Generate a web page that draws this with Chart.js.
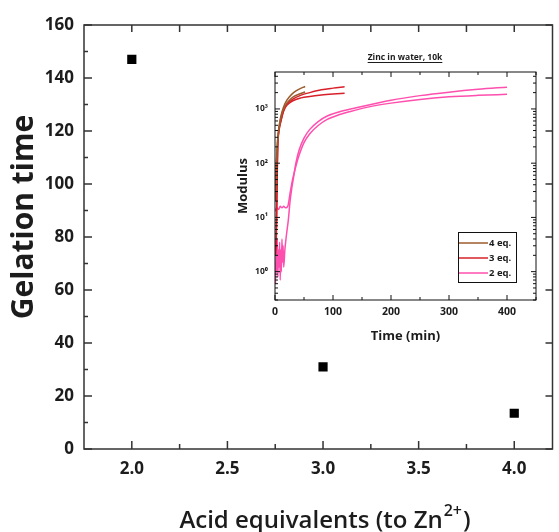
<!DOCTYPE html>
<html>
<head>
<meta charset="utf-8">
<script src="https://cdn.jsdelivr.net/npm/chart.js@4/dist/chart.umd.min.js"></script>
<style>
  html, body { margin: 0; padding: 0; background: #fff; }
  #wrap { position: relative; width: 559px; height: 532px; }
  #main { position: absolute; left: 0; top: 0; }
  #inset { position: absolute; left: 230px; top: 40px; }
</style>
</head>
<body>
<div id="wrap">
  <canvas id="main" width="559" height="532"></canvas>
  <canvas id="inset" width="320" height="310"></canvas>
</div>
<script>
// main plot data
const acidEq = [2.0, 3.0, 4.0];
const gelTime = [147, 31, 13.5];
const acidTicks = [2.0, 2.5, 3.0, 3.5, 4.0];
const acidMinor = [2.25, 2.75, 3.25, 3.75];
const gelTicks = [0, 20, 40, 60, 80, 100, 120, 140, 160];
const gelMinor = [10, 30, 50, 70, 90, 110, 130, 150];

// inset data: [time (min), modulus]
const eq4Upper = [[0.5, 25], [2, 80], [4, 230], [6, 400], [9, 640], [12, 880], [17, 1250], [25, 1680], [32, 2000], [40, 2280], [52, 2600]];
const eq4Lower = [[0.5, 20], [2, 70], [4, 210], [6, 370], [9, 600], [12, 820], [17, 1120], [25, 1450], [32, 1680], [40, 1850], [52, 2050]];
const eq3Upper = [[0.5, 2.5], [2, 4], [3, 20], [4, 100], [5, 250], [7, 420], [10, 600], [15, 950], [20, 1200], [30, 1500], [45, 1800], [60, 2000], [80, 2250], [100, 2420], [120, 2570]];
const eq3Lower = [[0.5, 2], [2, 3], [3, 12], [4, 80], [5, 220], [7, 400], [10, 580], [15, 920], [20, 1150], [30, 1400], [45, 1600], [60, 1700], [80, 1800], [100, 1880], [120, 1950]];
const eq2Upper = [[0, 1.5], [1, 0.6], [2, 3], [3, 1], [4, 4], [5, 0.8], [6, 2.5], [7, 1.2], [8, 3.5], [9, 0.7], [10, 2.5], [11, 1], [12, 4], [13, 1.5], [14, 3], [15, 1.2], [17, 2.5], [20, 5], [23, 9], [26, 20], [29, 35], [32, 55], [36, 100], [42, 180], [50, 290], [60, 420], [75, 590], [90, 740], [110, 880], [140, 1050], [200, 1450], [250, 1760], [300, 2040], [350, 2300], [400, 2520]];
const eq2Lower = [[0, 13], [3, 15], [6, 14], [9, 16], [12, 15], [15, 16], [18, 15], [22, 16], [26, 28], [30, 48], [35, 80], [40, 125], [50, 240], [60, 350], [75, 500], [90, 640], [110, 780], [130, 900], [160, 1080], [200, 1280], [250, 1500], [300, 1670], [350, 1780], [400, 1860]];
const timeTicks = [0, 100, 200, 300, 400];
const timeMinor = [50, 150, 250, 350, 450];
const modTicks = [1, 10, 100, 1000];
const legendLabels = ['4 eq.', '3 eq.', '2 eq.'];

const BROWN = '#9c5c2e';
const RED = '#d8202a';
const PINK = '#ff4fae';
const INK = '#1c1c1c';
const FONT = '"Open Sans", Lato, sans-serif';

Chart.defaults.font.family = FONT;
Chart.defaults.color = INK;

const toXY = pts => pts.map(p => ({ x: p[0], y: p[1] }));

// inward ticks + frame, drawn through the chart's own scales
function frameTicks(id, spec) {
  return {
    id: id,
    afterDatasetsDraw(chart) {
      const { ctx, chartArea: a, scales } = chart;
      const sx = scales.x, sy = scales.y;
      ctx.save();
      ctx.strokeStyle = spec.color;
      ctx.lineWidth = spec.lineWidth;
      ctx.beginPath();
      spec.x.forEach(([v, bot, top]) => {
        const px = sx.getPixelForValue(v);
        if (bot) { ctx.moveTo(px, a.bottom); ctx.lineTo(px, a.bottom - bot); }
        if (top) { ctx.moveTo(px, a.top); ctx.lineTo(px, a.top + top); }
      });
      spec.y.forEach(([v, left, right]) => {
        const py = sy.getPixelForValue(v);
        if (left) { ctx.moveTo(a.left, py); ctx.lineTo(a.left + left, py); }
        if (right) { ctx.moveTo(a.right, py); ctx.lineTo(a.right - right, py); }
      });
      ctx.stroke();
      ctx.strokeRect(a.left, a.top, a.right - a.left, a.bottom - a.top);
      ctx.restore();
    }
  };
}

const mainTitles = {
  id: 'mainTitles',
  afterDraw(chart) {
    const ctx = chart.ctx;
    ctx.save();
    ctx.fillStyle = INK;
    // y title
    ctx.translate(33, 217);
    ctx.rotate(-Math.PI / 2);
    ctx.font = 'bold 30px ' + FONT;
    ctx.textAlign = 'center';
    ctx.textBaseline = 'alphabetic';
    ctx.fillText('Gelation time', 0, 0);
    ctx.restore();

    // x title with superscript
    ctx.save();
    ctx.fillStyle = INK;
    ctx.textBaseline = 'alphabetic';
    ctx.textAlign = 'left';
    const mainFont = '600 24px ' + FONT, supFont = '600 16px ' + FONT;
    const t1 = 'Acid equivalents (to Zn', t2 = '2+', t3 = ')';
    ctx.font = mainFont; const w1 = ctx.measureText(t1).width, w3 = ctx.measureText(t3).width;
    ctx.font = supFont; const w2 = ctx.measureText(t2).width;
    let x0 = 324 - (w1 + w2 + w3) / 2;
    const base = 528;
    ctx.font = mainFont; ctx.fillText(t1, x0, base);
    ctx.font = supFont; ctx.fillText(t2, x0 + w1 + 1, base - 12);
    ctx.font = mainFont; ctx.fillText(t3, x0 + w1 + w2 + 2, base);
    ctx.restore();
  }
};

const mainTicks = frameTicks('mainTicks', {
  color: '#333', lineWidth: 1.5,
  x: acidTicks.map(v => [v, 8, 7]).concat(acidMinor.map(v => [v, 5, 7])),
  y: gelTicks.map(v => [v, 8, 7]).concat(gelMinor.map(v => [v, 4, 0]))
});

new Chart(document.getElementById('main').getContext('2d'), {
  type: 'scatter',
  data: {
    datasets: [{
      data: acidEq.map((x, i) => ({ x: x, y: gelTime[i] })),
      pointStyle: 'rect',
      pointRadius: 6.5,
      pointHoverRadius: 6.5,
      backgroundColor: '#000',
      borderColor: '#000',
      borderWidth: 0
    }]
  },
  options: {
    responsive: false,
    animation: false,
    events: [],
    layout: { padding: { top: 25, right: 2, left: 0, bottom: 0 } },
    plugins: { legend: { display: false }, tooltip: { enabled: false } },
    scales: {
      x: {
        type: 'linear', min: 1.75, max: 4.2,
        grid: { display: false, drawTicks: false }, border: { display: false },
        afterBuildTicks: s => { s.ticks = acidTicks.map(v => ({ value: v })); },
        afterFit: s => { s.height = 83; },
        ticks: {
          font: { size: 17, weight: 'bold' }, color: INK, padding: 10,
          maxRotation: 0, autoSkip: false,
          callback: v => Number(v).toFixed(1)
        }
      },
      y: {
        type: 'linear', min: 0, max: 160,
        grid: { display: false, drawTicks: false }, border: { display: false },
        afterBuildTicks: s => { s.ticks = gelTicks.map(v => ({ value: v })); },
        afterFit: s => { s.width = 84; },
        ticks: { font: { size: 17, weight: 'bold' }, color: INK, padding: 10, callback: v => String(v) }
      }
    }
  },
  plugins: [mainTicks, mainTitles]
});

// inset
const supDigits = { 0: '\u2070', 1: '\u00b9', 2: '\u00b2', 3: '\u00b3' };
const logMinor = [];
[0.1, 1, 10, 100, 1000].forEach(d => {
  for (let k = 2; k <= 9; k++) {
    const v = k * d;
    if (v >= 0.3 && v <= 4800) logMinor.push(v);
  }
});

const insetLines = [
  { color: BROWN, pts: eq4Upper }, { color: BROWN, pts: eq4Lower },
  { color: RED, pts: eq3Upper }, { color: RED, pts: eq3Lower },
  { color: PINK, pts: eq2Upper }, { color: PINK, pts: eq2Lower }
];
const legendColors = [BROWN, RED, PINK];

const insetTicks = frameTicks('insetTicks', {
  color: '#111', lineWidth: 1,
  x: timeTicks.map(v => [v, 5, 5]).concat(timeMinor.map(v => [v, 3, 3])),
  y: modTicks.map(v => [v, 5, 5]).concat(logMinor.map(v => [v, 3, 3]))
});

const insetDecor = {
  id: 'insetDecor',
  afterDraw(chart) {
    const ctx = chart.ctx;
    ctx.save();
    // title, underlined
    ctx.fillStyle = INK;
    ctx.font = 'bold 8.5px ' + FONT;
    ctx.textAlign = 'center';
    ctx.textBaseline = 'alphabetic';
    const title = 'Zinc in water, 10k';
    ctx.fillText(title, 175, 20);
    const tw = ctx.measureText(title).width;
    ctx.strokeStyle = INK;
    ctx.lineWidth = 1;
    ctx.beginPath();
    ctx.moveTo(175 - tw / 2, 22.5); ctx.lineTo(175 + tw / 2, 22.5);
    ctx.stroke();

    // legend box
    const bx = 228, by = 192, bw = 58, bh = 50;
    ctx.fillStyle = '#fff';
    ctx.fillRect(bx, by, bw, bh);
    ctx.strokeStyle = '#111';
    ctx.lineWidth = 1;
    ctx.strokeRect(bx + 0.5, by + 0.5, bw, bh);
    ctx.font = 'bold 9.5px ' + FONT;
    ctx.textAlign = 'left';
    ctx.textBaseline = 'middle';
    legendLabels.forEach((lab, i) => {
      const ry = by + 11 + i * 15;
      ctx.strokeStyle = legendColors[i];
      ctx.lineWidth = 1.5;
      ctx.beginPath();
      ctx.moveTo(bx + 1, ry); ctx.lineTo(bx + 30, ry);
      ctx.stroke();
      ctx.fillStyle = INK;
      ctx.fillText(lab, bx + 31, ry + 0.5);
    });
    ctx.restore();
  }
};

new Chart(document.getElementById('inset').getContext('2d'), {
  type: 'line',
  data: {
    datasets: insetLines.map(s => ({
      data: toXY(s.pts),
      borderColor: s.color,
      backgroundColor: s.color,
      borderWidth: 1.5,
      pointRadius: 0,
      fill: false,
      cubicInterpolationMode: 'monotone'
    }))
  },
  options: {
    responsive: false,
    animation: false,
    events: [],
    layout: { padding: { top: 32, right: 14, left: 0, bottom: 0 } },
    plugins: { legend: { display: false }, tooltip: { enabled: false } },
    scales: {
      x: {
        type: 'linear', min: 0, max: 450,
        grid: { display: false, drawTicks: false }, border: { display: false },
        afterBuildTicks: s => { s.ticks = timeTicks.map(v => ({ value: v })); },
        afterFit: s => { s.height = 50; },
        ticks: { font: { size: 10.5, weight: 'bold' }, color: INK, padding: 6, maxRotation: 0, autoSkip: false },
        title: { display: true, text: 'Time (min)', font: { size: 13, weight: 'bold' }, color: INK, padding: { bottom: 6 } }
      },
      y: {
        type: 'logarithmic', min: 0.3, max: 4800,
        grid: { display: false, drawTicks: false }, border: { display: false },
        afterBuildTicks: s => { s.ticks = modTicks.map(v => ({ value: v })); },
        afterFit: s => { s.width = 45; },
        ticks: {
          font: { size: 8.5, weight: 'bold' }, color: INK, padding: 7, autoSkip: false,
          callback: v => '10' + supDigits[Math.round(Math.log10(v))]
        },
        title: { display: true, text: 'Modulus', font: { size: 13, weight: 'bold' }, color: INK, padding: { top: 5 } }
      }
    }
  },
  plugins: [insetTicks, insetDecor]
});
</script>
</body>
</html>
